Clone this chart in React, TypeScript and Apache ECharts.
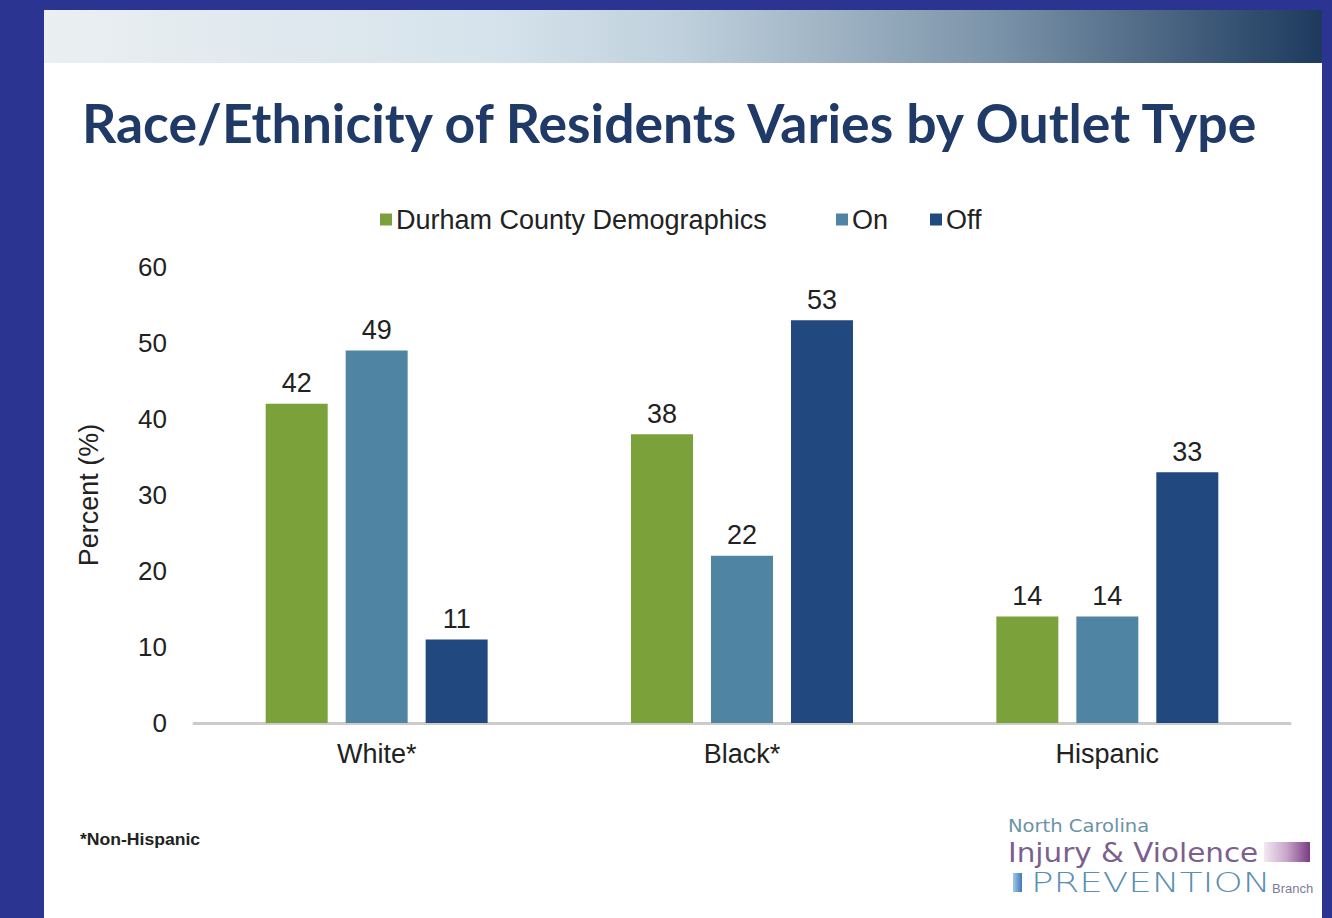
import React, { useEffect, useRef } from "react";
import * as echarts from "echarts";

const categories = ["White*", "Black*", "Hispanic"];
const seriesNames = ["Durham County Demographics", "On", "Off"];
const durham = [42, 38, 14];
const onPremise = [49, 22, 14];
const offPremise = [11, 53, 33];
const yTicks = [0, 10, 20, 30, 40, 50, 60];

const colors = ["#7aa13a", "#4f85a2", "#21497f"];
const FONT = "'Liberation Sans', Arial, sans-serif";
const legendLefts = [380, 836, 930];

export default function App() {
  const ref = useRef<HTMLDivElement>(null);
  useEffect(() => {
    document.body.style.margin = "0";
    const chart = echarts.init(ref.current!, null, { renderer: "svg" });
    const values = [durham, onPremise, offPremise];
    const option = {
      animation: false,
      backgroundColor: "#2b3591",
      textStyle: { fontFamily: FONT },
      graphic: [
        {
          type: "rect",
          shape: { x: 44, y: 10, width: 1278, height: 920 },
          style: { fill: "#ffffff" },
          z: -10,
        },
        {
          type: "rect",
          shape: { x: 44, y: 10, width: 1278, height: 53 },
          style: {
            fill: new echarts.graphic.LinearGradient(0, 0, 1, 0, [
              { offset: 0, color: "#eaeff1" },
              { offset: 0.35, color: "#d6e3ec" },
              { offset: 0.5, color: "#bfd0dc" },
              { offset: 0.75, color: "#7a92a8" },
              { offset: 1, color: "#1d3a5e" },
            ]),
          },
          z: -9,
        },
        {
          type: "text",
          x: 82,
          y: 122,
          style: {
            text: "Race/Ethnicity of Residents Varies by Outlet Type",
            fill: "#1f3a66",
            font: "bold 53.5px Lato, 'Open Sans', sans-serif",
            textVerticalAlign: "middle",
          },
        },
        {
          type: "text",
          x: 80,
          y: 840,
          scaleX: 1.1,
          style: {
            text: "*Non-Hispanic",
            fill: "#222",
            font: "bold 16px 'Liberation Sans', Arial, sans-serif",
            textVerticalAlign: "middle",
          },
        },
        {
          type: "text",
          x: 1008,
          y: 826,
          scaleX: 1.15,
          style: {
            text: "North Carolina",
            fill: "#6b93a6",
            font: "17px 'DejaVu Sans', sans-serif",
            textVerticalAlign: "middle",
          },
        },
        {
          type: "text",
          x: 1008,
          y: 853,
          scaleX: 1.09,
          style: {
            text: "Injury & Violence",
            fill: "#7c5f8e",
            font: "27px 'DejaVu Sans', sans-serif",
            textVerticalAlign: "middle",
          },
        },
        {
          type: "rect",
          shape: { x: 1264, y: 842, width: 46, height: 20 },
          style: {
            fill: new echarts.graphic.LinearGradient(0, 0, 1, 0, [
              { offset: 0, color: "#f2eaf2" },
              { offset: 0.5, color: "#c7a4c8" },
              { offset: 1, color: "#7b3a85" },
            ]),
          },
        },
        {
          type: "rect",
          shape: { x: 1013, y: 873, width: 9, height: 19 },
          style: {
            fill: new echarts.graphic.LinearGradient(0, 0, 1, 0, [
              { offset: 0, color: "#a8c8e6" },
              { offset: 1, color: "#3d78b8" },
            ]),
          },
        },
        {
          type: "text",
          x: 1031,
          y: 883,
          scaleX: 1.38,
          style: {
            text: "PREVENTION",
            fill: "#5a8fb5",
            font: "200 27px 'DejaVu Sans', sans-serif",
            textVerticalAlign: "middle",
          },
        },
        {
          type: "text",
          x: 1272,
          y: 888,
          style: {
            text: "Branch",
            fill: "#7d7b9c",
            font: "13px 'Liberation Sans', sans-serif",
            textVerticalAlign: "middle",
          },
        },
      ],
      legend: seriesNames.map((name, i) => ({
        top: 206,
        left: legendLefts[i],
        padding: 0,
        icon: "rect",
        itemWidth: 12,
        itemHeight: 12,
        textStyle: { fontSize: 27, color: "#222", fontFamily: FONT, padding: [0, 0, 0, -1] },
        data: [name],
      })),
      grid: { left: 194, right: 42, top: 267, height: 456, containLabel: false },
      xAxis: {
        type: "category",
        data: categories,
        axisLine: { lineStyle: { color: "#cbcbcb", width: 3 } },
        axisTick: { show: false },
        axisLabel: { fontSize: 27, color: "#222", margin: 17, fontFamily: FONT },
      },
      yAxis: {
        type: "value",
        min: yTicks[0],
        max: yTicks[yTicks.length - 1],
        interval: 10,
        name: "Percent (%)",
        nameLocation: "middle",
        nameGap: 92,
        nameTextStyle: { fontSize: 27, color: "#222", fontFamily: FONT },
        splitLine: { show: false },
        axisLine: { show: false },
        axisTick: { show: false },
        axisLabel: { fontSize: 26, color: "#222", margin: 27, fontFamily: FONT },
      },
      series: seriesNames.map((name, i) => ({
        name,
        type: "bar",
        data: values[i],
        barWidth: 62,
        barGap: "29%",
        itemStyle: { color: colors[i] },
        label: {
          show: true,
          position: "top",
          distance: 7,
          fontSize: 27,
          color: "#222",
          fontFamily: FONT,
        },
      })),
    };
    chart.setOption(option as any);
    return () => chart.dispose();
  }, []);
  return (
    <div
      ref={ref}
      style={{ position: "absolute", left: 0, top: 0, width: 1332, height: 918 }}
    />
  );
}
